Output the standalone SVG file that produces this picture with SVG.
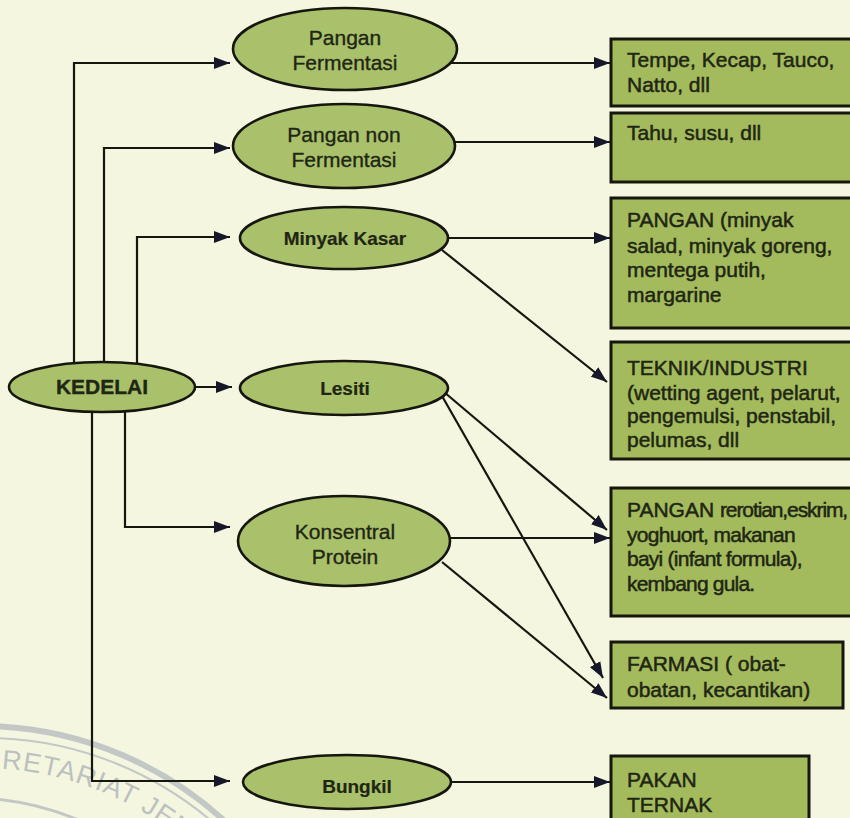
<svg xmlns="http://www.w3.org/2000/svg" width="850" height="818" viewBox="0 0 850 818">
<defs>
<marker id="ah" markerUnits="userSpaceOnUse" markerWidth="17" markerHeight="13" refX="16" refY="6.5" orient="auto">
<path d="M0,0.5 L16,6.5 L0,12.5 Z" fill="#16182a"/>
</marker>
<path id="wmText" d="M -339 1088 A 320 320 0 0 1 301 1088"/>
</defs>
<style>
.bg{fill:#f4f6df}
.ell{fill:#a9c16a;stroke:#15170f;stroke-width:2.6}
.box{fill:#a3bb5c;stroke:#15170f;stroke-width:3}
.lbl{font-family:"Liberation Sans",Arial,sans-serif;font-size:21px;fill:#1f2614;stroke:#1f2614;stroke-width:0.35;text-anchor:middle}
.bold{font-weight:bold;font-size:19px;stroke-width:0.2}
.btx{font-family:"Liberation Sans",Arial,sans-serif;font-size:21px;fill:#1f2614;stroke:#1f2614;stroke-width:0.5}
.con{fill:none;stroke:#15170f;stroke-width:2.2;marker-end:url(#ah)}
.wm{fill:none;stroke:#c3c8c6}
.wmt{font-family:"Liberation Sans",Arial,sans-serif;font-size:27px;fill:#bcc1c0;letter-spacing:1px}
</style>
<rect class="bg" x="0" y="0" width="850" height="818"/>

<g id="watermark">
<path class="wm" stroke-width="6" d="M -19 726 A 362 362 0 0 1 240 836"/>
<path class="wm" stroke-width="2" d="M -19 738 A 350 350 0 0 1 232 840"/>
<path class="wm" stroke-width="3" d="M -19 798 A 290 290 0 0 1 100 830"/>
<text class="wmt"><textPath href="#wmText" startOffset="523">RETARIAT JEN</textPath></text>
</g>

<g id="connectors">
<polyline class="con" points="74,364 74,63 230,63"/>
<polyline class="con" points="104,362 104,148 230,148"/>
<polyline class="con" points="137,364 137,237 230,237"/>
<polyline class="con" points="195,387 232,387"/>
<polyline class="con" points="125,410 125,527 230,527"/>
<polyline class="con" points="92,411 92,781 230,781"/>
<line class="con" x1="450" y1="63" x2="610" y2="63"/>
<line class="con" x1="453" y1="142" x2="610" y2="142"/>
<line class="con" x1="448" y1="238" x2="610" y2="238"/>
<line class="con" x1="442" y1="250" x2="607" y2="382"/>
<line class="con" x1="444" y1="392" x2="607" y2="530"/>
<line class="con" x1="442" y1="396" x2="603" y2="678"/>
<line class="con" x1="450" y1="538" x2="610" y2="538"/>
<line class="con" x1="442" y1="562" x2="607" y2="698"/>
<line class="con" x1="452" y1="782" x2="610" y2="782"/>
</g>

<g id="kedelai">
<ellipse class="ell" cx="102" cy="387" rx="93" ry="25"/>
<text class="lbl" x="102" y="394" font-weight="bold" font-size="21">KEDELAI</text>
</g>

<g id="pangan-fermentasi">
<ellipse class="ell" cx="345" cy="49" rx="112" ry="41"/>
<text class="lbl" x="345" y="45">Pangan</text>
<text class="lbl" x="345" y="70">Fermentasi</text>
</g>

<g id="pangan-non-fermentasi">
<ellipse class="ell" cx="344" cy="146" rx="111" ry="42"/>
<text class="lbl" x="344" y="142">Pangan non</text>
<text class="lbl" x="344" y="167">Fermentasi</text>
</g>

<g id="minyak-kasar">
<ellipse class="ell" cx="344" cy="238" rx="104" ry="31"/>
<text class="lbl bold" x="345" y="245">Minyak Kasar</text>
</g>

<g id="lesiti">
<ellipse class="ell" cx="344" cy="388" rx="104" ry="27"/>
<text class="lbl bold" x="345" y="395">Lesiti</text>
</g>

<g id="konsentral-protein">
<ellipse class="ell" cx="344" cy="541" rx="106" ry="45"/>
<text class="lbl" x="345" y="539">Konsentral</text>
<text class="lbl" x="345" y="564">Protein</text>
</g>

<g id="bungkil">
<ellipse class="ell" cx="347" cy="782" rx="104" ry="27"/>
<text class="lbl bold" x="357" y="793">Bungkil</text>
</g>

<g id="box-tempe">
<rect class="box" x="611" y="39" width="250" height="67"/>
<text class="btx" x="627" y="67">Tempe, Kecap, Tauco,</text>
<text class="btx" x="627" y="92">Natto, dll</text>
</g>

<g id="box-tahu">
<rect class="box" x="611" y="113" width="250" height="69"/>
<text class="btx" x="627" y="140">Tahu, susu, dll</text>
</g>

<g id="box-pangan-minyak">
<rect class="box" x="611" y="198" width="250" height="130"/>
<text class="btx" x="627" y="227">PANGAN (minyak</text>
<text class="btx" x="627" y="253">salad, minyak goreng,</text>
<text class="btx" x="627" y="277">mentega putih,</text>
<text class="btx" x="627" y="302">margarine</text>
</g>

<g id="box-teknik">
<rect class="box" x="611" y="342" width="250" height="117"/>
<text class="btx" x="627" y="375">TEKNIK/INDUSTRI</text>
<text class="btx" x="627" y="400">(wetting agent, pelarut,</text>
<text class="btx" x="627" y="423">pengemulsi, penstabil,</text>
<text class="btx" x="627" y="447">pelumas, dll</text>
</g>

<g id="box-pangan-rerotian">
<rect class="box" x="611" y="488" width="250" height="128"/>
<text class="btx" x="627" y="517">PANGAN <tspan letter-spacing="-1.1">rerotian,eskrim,</tspan></text>
<text class="btx" x="627" y="542" letter-spacing="-0.7">yoghuort, makanan</text>
<text class="btx" x="627" y="566" letter-spacing="-0.75">bayi (infant formula),</text>
<text class="btx" x="627" y="591" letter-spacing="-0.8">kembang gula.</text>
</g>

<g id="box-farmasi">
<rect class="box" x="611" y="642" width="232" height="66"/>
<text class="btx" x="627" y="671">FARMASI ( obat-</text>
<text class="btx" x="627" y="697">obatan, kecantikan)</text>
</g>

<g id="box-pakan">
<rect class="box" x="611" y="756" width="198" height="80"/>
<text class="btx" x="627" y="787">PAKAN</text>
<text class="btx" x="627" y="812">TERNAK</text>
</g>
</svg>
